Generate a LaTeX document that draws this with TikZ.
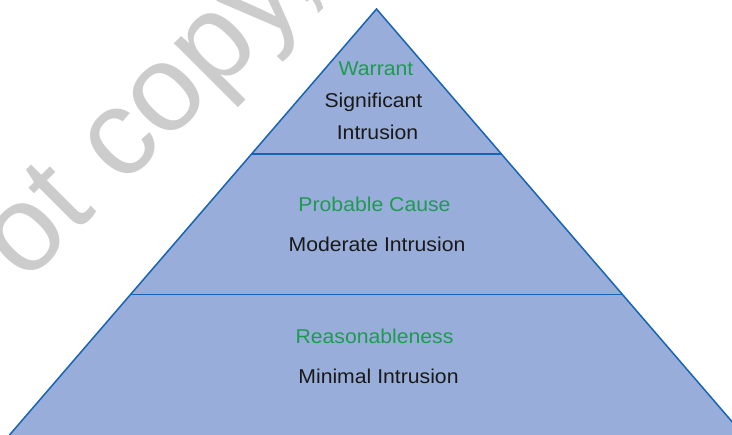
\documentclass[tikz,border=0pt]{standalone}
\usepackage{fontspec}
\setmainfont[FakeStretch=1.06]{Liberation Sans}
\newfontfamily\markfont{Liberation Sans}
\usetikzlibrary{calc}
\definecolor{tierfill}{RGB}{152,173,217}
\definecolor{tierline}{RGB}{23,100,180}
\definecolor{tiergreen}{RGB}{30,155,80}
\definecolor{tiertext}{RGB}{25,25,25}

\begin{document}
\begin{tikzpicture} [x=1pt, y=1pt,
  level/.style={text=tiergreen, font=\fontsize{20}{24}\selectfont, anchor=base, inner sep=0pt},
  burden/.style={text=tiertext, font=\fontsize{20}{24}\selectfont, anchor=base, inner sep=0pt}]
\useasboundingbox (0,0) rectangle (732,435);
\clip (0,0) rectangle (732,435);
% watermark
\node[text=gray!40, font=\markfont\fontsize{123}{130}\selectfont, rotate=45, anchor=base west, inner sep=0pt] (mark) at (25.5,150.5) {ot copy,};
% pyramid
\coordinate (apex) at (376.5,426);
\coordinate (bl) at (9.5,0);
\coordinate (br) at (743.5,0);
\fill[tierfill] (apex) -- (bl) -- (br) -- cycle;
\draw[tierline, line width=1.5pt] (bl) -- (apex) -- (br);
\foreach \y in {281, 140.5} {
 \draw[tierline, line width=1.5pt] ($(apex)!{(426-\y)/426}!(bl)$) -- ($(apex)!{(426-\y)/426}!(br)$);
}
% labels
\node[level]  (warrant)     at (376,359.3)   {Warrant};
\node[burden] (significant) at (373.5,327)   {Significant};
\node[burden] (intrusion)   at (377.5,295)   {Intrusion};
\node[level]  (probable)    at (374.5,223.3) {Probable Cause};
\node[burden] (moderate)    at (377,183.3)   {Moderate Intrusion};
\node[level]  (reasonable)  at (374.5,91)    {Reasonableness};
\node[burden] (minimal)     at (378.5,51)    {Minimal Intrusion};
\end{tikzpicture}
\end{document}
